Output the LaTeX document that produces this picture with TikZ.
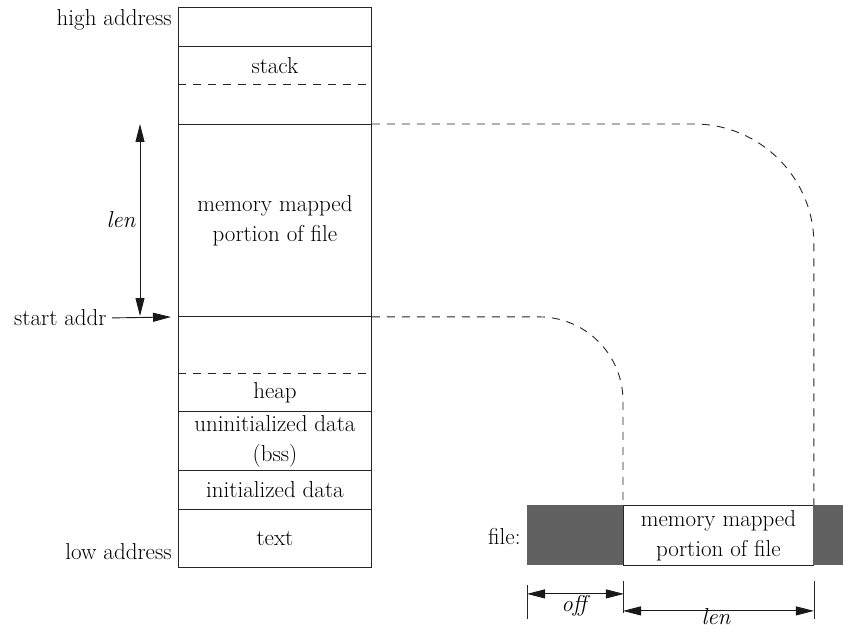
\documentclass[tikz,border=0pt]{standalone}
\usetikzlibrary{arrows.meta,calc}
\newcommand\diagfont{\fontsize{23}{30}\selectfont}
\begin{document}
\begin{tikzpicture}[x=1pt,y=-1pt,
  line width=0.9pt,
  every node/.style={font=\diagfont, text=black},
  seg/.style={rectangle, inner sep=0pt, minimum width=193pt, anchor=north west, align=center},
  frame/.style={draw=black!85, line width=0.9pt},
  dline/.style={draw=black!85, line width=0.9pt, dash pattern=on 8pt off 7pt},
  dimarrow/.style={draw=black!90, line width=0.9pt, {Triangle[length=18pt,width=9pt]}-{Triangle[length=18pt,width=9pt]}},
  onearrow/.style={draw=black!90, line width=0.9pt, -{Triangle[length=18pt,width=9pt]}},
  ext/.style={draw=black!85, line width=0.8pt},
  filebox/.style={rectangle, inner sep=0pt, minimum height=60pt, anchor=north west, align=center},
  shade/.style={fill=black!62}
]
\useasboundingbox (0,0) rectangle (843,628);

% memory column segments
\node[seg, minimum height=39pt] (hi) at (178,7) {};
\node[seg, minimum height=38pt] (stack) at (178,46) {stack};
\node[seg, minimum height=40pt] (free1) at (178,84) {};
\node[seg, minimum height=192pt] (mmap) at (178,124) {memory mapped\\portion of file};
\node[seg, minimum height=57pt] (free2) at (178,316) {};
\node[seg, minimum height=38pt] (heap) at (178,373) {heap};
\node[seg, minimum height=59pt] (bss) at (178,411) {uninitialized data\\(bss)};
\node[seg, minimum height=39pt] (data) at (178,470) {initialized data};
\node[seg, minimum height=58pt] (text) at (178,509) {text};

\draw[frame] (hi.north west) rectangle (text.south east);
\foreach \s in {hi,free1,mmap,heap,bss,data}
  \draw[frame] (\s.south west) -- (\s.south east);
\foreach \s in {stack,free2}
  \draw[dline] (\s.south west) -- (\s.south east);

% side labels
\node[anchor=east, inner sep=0pt] (highaddr) at (172,20) {high address};
\node[anchor=east, inner sep=0pt] (lowaddr) at (172,552) {low address};
\node[anchor=east, inner sep=0pt] (sa) at (107,318) {start addr};
\draw[onearrow, shorten <=5pt, shorten >=7pt] (sa.east) -- (mmap.south west);

\coordinate (lentop) at (140,124);
\coordinate (lenbot) at (140,316);
\draw[dimarrow] (lentop) -- (lenbot);
\node (lenlbl) at (121,220) {\itshape len};

% file
\node[filebox, shade, minimum width=96pt] (foff) at (527,505) {};
\node[filebox, draw=black!85, fill=white, minimum width=190pt] (fmap) at (623,505) {memory mapped\\portion of file};
\node[filebox, shade, minimum width=30pt] (frest) at (813,505) {};
\node[anchor=east, inner sep=0pt] (filelbl) at (521,537) {file:};

% dashed mapping curves
\draw[dline, rounded corners=120pt] (mmap.north east) -- (mmap.north east -| fmap.north east) -- (fmap.north east);
\draw[dline, rounded corners=84pt] (mmap.south east) -- (mmap.south east -| fmap.north west) -- (fmap.north west);

% dimension lines below file
\draw[ext] ($(foff.south west)+(0,19)$) -- ($(foff.south west)+(0,53)$);
\draw[ext] ($(fmap.south west)+(0,15)$) -- ($(fmap.south west)+(0,47)$);
\draw[ext] ($(fmap.south east)+(0,15)$) -- ($(fmap.south east)+(0,53)$);
\draw[dimarrow] ($(foff.south west)+(0,28)$) -- ($(foff.south east)+(0,28)$);
\draw[dimarrow] ($(fmap.south west)+(0,45)$) -- ($(fmap.south east)+(0,45)$);
\node[inner sep=1pt] (offlbl) at (574,606) {\itshape off};
\node[inner sep=1pt] (flenlbl) at (716,617) {\itshape len};
\end{tikzpicture}
\end{document}
